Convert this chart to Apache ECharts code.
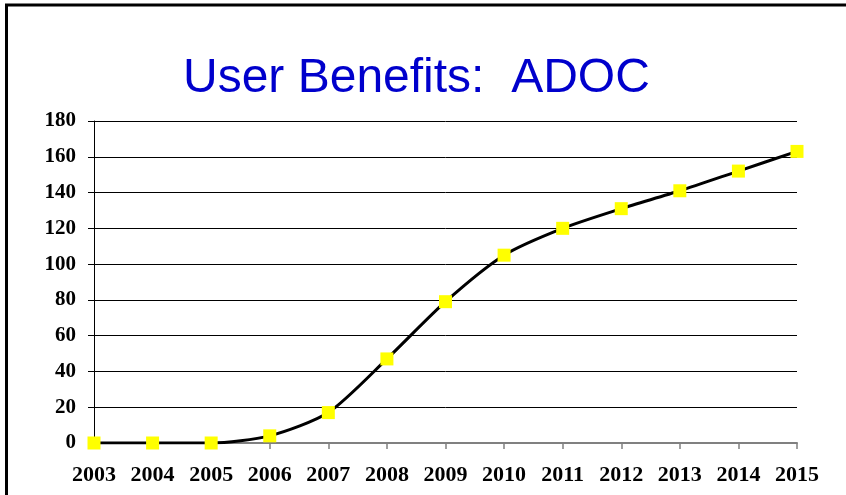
<!DOCTYPE html>
<html>
<head>
<meta charset="utf-8">
<title>User Benefits: ADOC</title>
<script src="https://cdn.jsdelivr.net/npm/echarts@6/dist/echarts.min.js"></script>
<style>
  html, body { margin: 0; padding: 0; background: #fff; }
  #chart { width: 846px; height: 495px; }
</style>
</head>
<body>
<div id="chart"></div>
<script>
// Yearly user benefits for ADOC
const years = ['2003', '2004', '2005', '2006', '2007', '2008', '2009',
               '2010', '2011', '2012', '2013', '2014', '2015'];
const benefits = [0, 0, 0, 4, 17, 47, 79, 105, 120, 131, 141, 152, 163];
const yTicks = { min: 0, max: 180, interval: 20 };

const chart = echarts.init(document.getElementById('chart'), null, { renderer: 'canvas' });

const serif = '"Liberation Serif", "Times New Roman", serif';

chart.setOption({
  animation: false,
  backgroundColor: '#ffffff',
  title: {
    text: 'User Benefits:  ADOC',
    left: 178,
    top: 50,
    textStyle: {
      fontFamily: '"Liberation Sans", Arial, sans-serif',
      fontWeight: 'normal',
      fontSize: 48,
      color: '#0000CC'
    }
  },
  graphic: [
    // open frame: top and left edges
    { type: 'line', shape: { x1: 5, y1: 5, x2: 846, y2: 5 }, style: { stroke: '#000', lineWidth: 3 } },
    { type: 'line', shape: { x1: 6.5, y1: 5, x2: 6.5, y2: 495 }, style: { stroke: '#000', lineWidth: 3 } }
  ],
  grid: { left: 94, right: 49, top: 121, bottom: 52, containLabel: false },
  xAxis: {
    type: 'category',
    data: years,
    boundaryGap: false,
    axisLine: { lineStyle: { color: '#808080', width: 2 } },
    axisTick: { show: true, length: 6, inside: false, lineStyle: { color: '#808080', width: 1.5 } },
    axisLabel: {
      margin: 21,
      fontFamily: serif,
      fontWeight: 'bold',
      fontSize: 22,
      color: '#000'
    },
    splitLine: { show: false }
  },
  yAxis: {
    type: 'value',
    min: yTicks.min,
    max: yTicks.max,
    interval: yTicks.interval,
    axisLine: { show: true, lineStyle: { color: '#000', width: 1 } },
    axisTick: { show: true, length: 6, lineStyle: { color: '#000', width: 1 } },
    axisLabel: {
      margin: 18,
      fontFamily: serif,
      fontWeight: 'bold',
      fontSize: 21,
      color: '#000'
    },
    splitLine: { show: true, lineStyle: { color: '#000', width: 1 } }
  },
  series: [{
    type: 'line',
    data: benefits,
    smooth: 0.25,
    symbol: 'rect',
    symbolSize: 13,
    z: 5,
    lineStyle: { color: '#000', width: 3 },
    itemStyle: { color: '#FFFF00', borderWidth: 0 }
  }]
});
</script>
</body>
</html>
